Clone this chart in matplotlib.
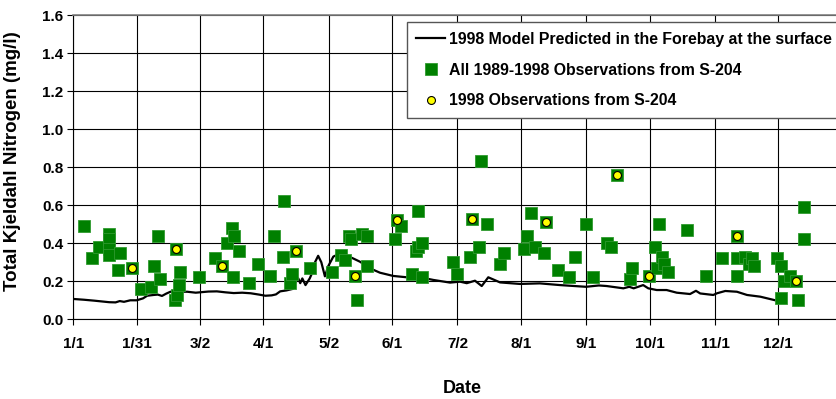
import matplotlib
matplotlib.use("Agg")
import matplotlib.pyplot as plt
import numpy as np

plt.rcParams['font.family'] = ['Liberation Sans', 'DejaVu Sans']
plt.rcParams['font.weight'] = 'bold'

# x axis: days since 1/1/1998
tick_days = [0, 30, 60, 90, 121, 151, 182, 212, 243, 273, 304, 334]
tick_labels = ['1/1', '1/31', '3/2', '4/1', '5/2', '6/1', '7/2', '8/1', '9/1', '10/1', '11/1', '12/1']

# all 1989-1998 observations (green squares)
all_day = [5, 9, 12, 17, 17, 17, 17, 22, 21, 28,
           32, 37, 38, 40, 41, 48, 48.5, 49, 50, 50.5, 59.5,
           67, 70.4, 73, 75, 76, 75.5, 78.5, 83, 87.5,
           93, 95, 99.5, 100, 102.7, 103.5, 105.4, 112,
           122.4, 127, 128.5, 130.5, 131.5, 133.5, 134.3, 137, 139.3, 139,
           152.4, 153.2, 155.2, 160.3, 162.2, 163.2, 163.5, 165, 165,
           180, 182, 188, 189, 192, 193.2, 196, 202.2, 204,
           213.7, 214.8, 216.8, 218.7, 223, 223.9, 229.8, 235, 237.8,
           243, 246, 252.7, 254.6, 257.8, 263.7, 264.8, 272.7,
           275.6, 276.4, 277.6, 278.8, 279.8, 281.6, 290.6, 299.6,
           307.5, 314.4, 314.4, 314.4, 318.4, 320, 321.5, 322.6,
           333.4, 335.3, 335.3, 336.6, 339.4, 342.4, 343.2, 346.3, 346.3]
all_val = [0.49, 0.32, 0.38, 0.45, 0.42, 0.37, 0.34, 0.35, 0.26, 0.27,
           0.16, 0.17, 0.28, 0.44, 0.21, 0.10, 0.37, 0.13, 0.18, 0.25, 0.22,
           0.32, 0.28, 0.40, 0.48, 0.44, 0.22, 0.36, 0.19, 0.29,
           0.23, 0.44, 0.33, 0.62, 0.19, 0.24, 0.36, 0.27,
           0.25, 0.34, 0.31, 0.44, 0.42, 0.23, 0.10, 0.45, 0.44, 0.28,
           0.42, 0.52, 0.49, 0.24, 0.36, 0.57, 0.38, 0.40, 0.22,
           0.30, 0.24, 0.33, 0.53, 0.38, 0.83, 0.50, 0.29, 0.35,
           0.37, 0.44, 0.56, 0.38, 0.35, 0.51, 0.26, 0.22, 0.33,
           0.50, 0.22, 0.40, 0.38, 0.76, 0.21, 0.27, 0.23,
           0.38, 0.27, 0.50, 0.33, 0.29, 0.25, 0.47, 0.23,
           0.32, 0.32, 0.44, 0.23, 0.33, 0.29, 0.32, 0.28,
           0.32, 0.28, 0.11, 0.20, 0.23, 0.20, 0.10, 0.59, 0.42]

# 1998 observations (yellow circles)
obs98_day = [28, 48.5, 70.4, 105.4, 133.5, 153.2, 189, 223.9, 257.8, 272.7, 314.4, 342.4]
obs98_val = [0.27, 0.37, 0.28, 0.36, 0.23, 0.52, 0.53, 0.51, 0.76, 0.23, 0.44, 0.20]

# model prediction in the forebay at the surface
model_day = [0, 5, 10, 17, 20, 22, 24, 27, 30, 33, 35, 38, 40, 42, 44, 46, 50, 54, 58, 60,
             64, 68, 72, 76, 80, 84, 88, 91, 94, 96, 98, 101, 104, 105, 106.6, 107.5, 108.5,
             110, 112, 113, 114.5, 116, 117.5, 119.2, 120.8, 123.2, 126.3, 129.5, 132.6,
             135.8, 140.6, 145.3, 151.6, 158, 164.3, 170.6, 178.5, 183.2, 186.4, 190.3,
             193.5, 196.6, 202.2, 211.6, 221, 230.6, 242.9, 249, 252.7, 260.6, 263.4, 265.5,
             270, 272.4, 276.4, 281.1, 285.9, 292.2, 295, 297, 303.2, 305, 308.9, 314.4,
             319.2, 325.5, 332.6]
model_val = [0.107, 0.103, 0.098, 0.090, 0.089, 0.096, 0.092, 0.100, 0.100, 0.110, 0.124,
             0.128, 0.130, 0.123, 0.135, 0.145, 0.145, 0.145, 0.140, 0.142,
             0.146, 0.147, 0.142, 0.138, 0.140, 0.137, 0.130, 0.124, 0.126, 0.131, 0.147,
             0.152, 0.160, 0.190, 0.215, 0.190, 0.215,
             0.180, 0.215, 0.240, 0.300, 0.334, 0.300, 0.226, 0.280, 0.330, 0.345, 0.335, 0.320,
             0.303, 0.268, 0.245, 0.228, 0.221, 0.221, 0.207, 0.193, 0.198, 0.190, 0.203,
             0.175, 0.221, 0.194, 0.186, 0.189, 0.180, 0.171, 0.178, 0.175, 0.163, 0.171, 0.163,
             0.180, 0.163, 0.154, 0.154, 0.140, 0.133, 0.150, 0.136, 0.128, 0.137, 0.149, 0.145,
             0.128, 0.119, 0.100]

fig = plt.figure(figsize=(8.37, 3.99), dpi=100)
ax = fig.add_axes([0.0876, 0.1997, 0.9204, 0.7627])

ax.plot(model_day, model_val, color='black', lw=1.6, zorder=3,
        label='1998 Model Predicted in the Forebay at the surface')
ax.plot(all_day, all_val, linestyle='none', marker='s', ms=8.3, color='#008000',
        mec='#2f9a2f', mew=0.6, zorder=4, label='All 1989-1998 Observations from S-204')
ax.plot(obs98_day, obs98_val, linestyle='none', marker='o', ms=5.7, color='#ffff00',
        mec='black', mew=0.8, zorder=5, label='1998 Observations from S-204')

ax.set_xlim(0, 365)
ax.set_ylim(0, 1.6)
ax.set_xticks(tick_days)
ax.set_xticklabels(tick_labels)
ax.set_yticks(np.arange(0, 1.61, 0.2))
ax.set_yticklabels(['%.1f' % v for v in np.arange(0, 1.61, 0.2)])

ax.set_axisbelow(True)
ax.grid(True, color='black', lw=0.8)
ax.tick_params(axis='both', direction='out', length=4, width=0.8, labelsize=11)
ax.tick_params(axis='x', pad=9)
ax.tick_params(axis='y', pad=3)
for s in ['left', 'bottom']:
    ax.spines[s].set_color('black')
    ax.spines[s].set_linewidth(0.8)
ax.spines['top'].set_color('#808080')
ax.spines['top'].set_linewidth(1.2)
ax.spines['right'].set_visible(False)

ax.set_ylabel('Total Kjeldahl Nitrogen (mg/l)', fontsize=13.5, fontweight='bold')
ax.yaxis.set_label_coords(-0.068, 0.519)
ax.set_xlabel('Date', fontsize=13, fontweight='bold')
ax.xaxis.set_label_coords(0.5045, -0.20)

leg = ax.legend(loc='upper left', bbox_to_anchor=(406.7 / 837, 1 - 22.3 / 399),
                bbox_transform=fig.transFigure, borderaxespad=0, fancybox=False,
                framealpha=1, edgecolor='#555555', prop={'size': 11.4, 'weight': 'bold'},
                handlelength=1.85, handletextpad=0.2, borderpad=0.6, labelspacing=1.0)
leg.get_frame().set_linewidth(1.0)

fig.savefig('out.png', dpi=100)
